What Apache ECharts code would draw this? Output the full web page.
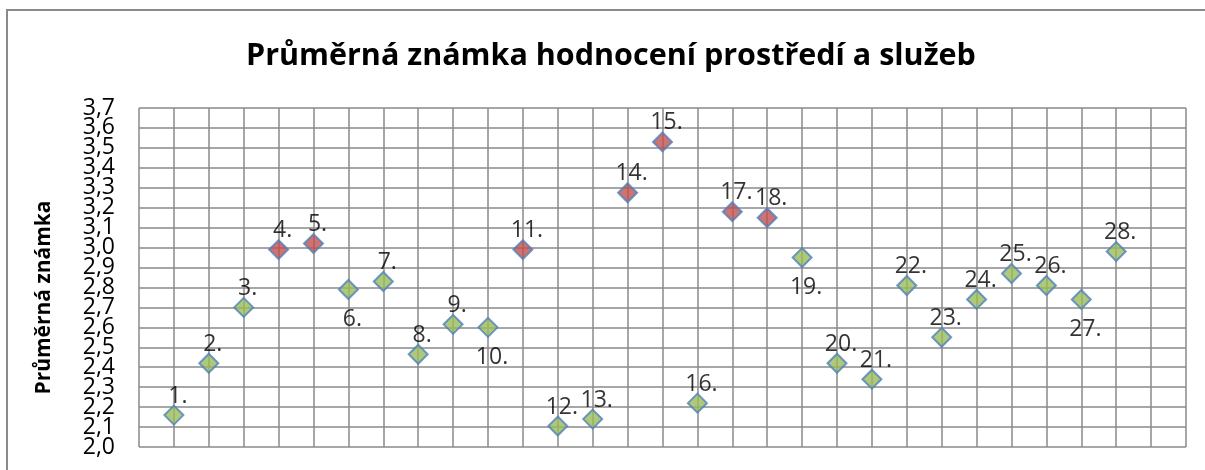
<!DOCTYPE html>
<html>
<head>
<meta charset="utf-8">
<script src="https://cdn.jsdelivr.net/npm/echarts@6/dist/echarts.min.js"></script>
<style>
  html, body { margin: 0; padding: 0; background: #fff; }
  #chart { width: 1205px; height: 470px; }
</style>
</head>
<body>
<div id="chart"></div>
<script>
const pointNames = ['1.', '2.', '3.', '4.', '5.', '6.', '7.', '8.', '9.', '10.',
  '11.', '12.', '13.', '14.', '15.', '16.', '17.', '18.', '19.', '20.',
  '21.', '22.', '23.', '24.', '25.', '26.', '27.', '28.'];
const scores = [2.16, 2.42, 2.70, 2.99, 3.02, 2.79, 2.83, 2.465, 2.615, 2.60,
  2.99, 2.105, 2.14, 3.275, 3.53, 2.22, 3.18, 3.15, 2.95, 2.42,
  2.34, 2.81, 2.55, 2.74, 2.87, 2.81, 2.74, 2.98];
// points drawn in red
const highlighted = [4, 5, 11, 14, 15, 17, 18];
// points whose label sits under the marker
const labelsBelow = [6, 10, 19, 27];
const yMin = 2.0, yMax = 3.7, yStep = 0.1;
// tick labels split in two sets so the tightly packed labels are not dropped
const yTicksA = [2.0, 2.2, 2.4, 2.6, 2.8, 3.0, 3.2, 3.4, 3.6];
const yTicksB = [2.1, 2.3, 2.5, 2.7, 2.9, 3.1, 3.3, 3.5, 3.7];

const font = 'Open Sans';
const gridColor = '#8a8a8a';

const points = scores.map((v, i) => {
  const n = i + 1;
  const below = labelsBelow.includes(n);
  return {
    value: [n, v],
    name: pointNames[i],
    itemStyle: { color: highlighted.includes(n) ? '#C0504D' : '#9BBB59' },
    label: { position: below ? 'bottom' : 'top', distance: below ? 8 : -3 }
  };
});

const tickLabel = ticks => ({
  margin: 24,
  fontSize: 23,
  color: '#000',
  fontFamily: font,
  customValues: ticks,
  showMinLabel: true,
  showMaxLabel: true,
  formatter: v => v.toFixed(1).replace('.', ',')
});

const option = {
  animation: false,
  backgroundColor: '#fff',
  textStyle: { fontFamily: font },
  title: {
    text: 'Průměrná známka hodnocení prostředí a služeb',
    left: 241,
    top: 36,
    textStyle: { fontFamily: font, fontSize: 30.5, fontWeight: 'bold', color: '#000' }
  },
  graphic: [{
    type: 'rect',
    shape: { x: 7, y: 10, width: 1220, height: 490 },
    style: { fill: 'none', stroke: gridColor, lineWidth: 2 },
    silent: true
  }],
  grid: { left: 139, top: 108, width: 1047, height: 339 },
  xAxis: {
    type: 'value',
    min: 0,
    max: 30,
    interval: 1,
    axisLine: { show: false },
    axisTick: { show: false },
    axisLabel: { show: false },
    splitLine: { show: true, lineStyle: { color: gridColor, width: 1.5 } }
  },
  yAxis: [{
    type: 'value',
    position: 'left',
    min: yMin,
    max: yMax,
    interval: yStep,
    name: 'Průměrná známka',
    nameLocation: 'middle',
    nameGap: 84,
    nameTextStyle: {
      fontFamily: font, fontSize: 21, fontWeight: 'bold', color: '#000',
      padding: [0, 40, 0, 0]
    },
    axisLine: { show: false },
    axisTick: { show: false },
    axisLabel: tickLabel(yTicksA),
    splitLine: { show: true, lineStyle: { color: gridColor, width: 1.5 } }
  }, {
    type: 'value',
    position: 'left',
    offset: 0,
    min: yMin,
    max: yMax,
    interval: yStep,
    axisLine: { show: false },
    axisTick: { show: false },
    axisLabel: tickLabel(yTicksB),
    splitLine: { show: false }
  }],
  series: [{
    type: 'scatter',
    yAxisIndex: 0,
    symbol: 'diamond',
    symbolSize: 19,
    itemStyle: { borderColor: '#4F81BD', borderWidth: 2 },
    label: {
      show: true,
      formatter: p => p.name,
      fontSize: 23,
      offset: [4, 0],
      color: '#000',
      fontFamily: font
    },
    data: points
  }]
};

const myChart = echarts.init(document.getElementById('chart'));
myChart.setOption(option);
</script>
</body>
</html>
